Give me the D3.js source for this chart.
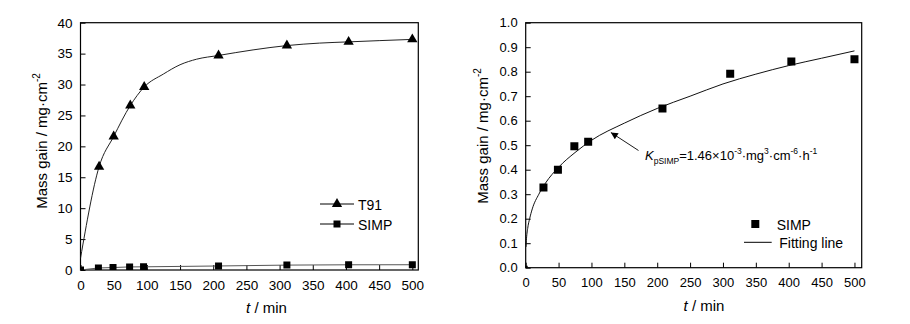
<!DOCTYPE html>
<html>
<head>
<meta charset="utf-8">
<script src="https://cdn.jsdelivr.net/npm/d3@7"></script>
<style>
  html, body { margin: 0; padding: 0; background: #fff; }
  svg { display: block; font-family: "Liberation Sans", Arial, sans-serif; }
</style>
</head>
<body>
<svg id="chart" width="910" height="324"></svg>
<script>
// Oxidation kinetics: mass gain versus exposure time

// Left panel — T91 measured points and its guide curve
const t91Time = [28, 50, 75, 96, 208, 311, 404, 500];
const t91Gain = [16.7, 21.6, 26.6, 29.6, 34.7, 36.3, 36.9, 37.3];
const t91CurveTime = [0, 28, 50, 75, 96, 125, 150, 175, 208, 260, 311, 360, 404, 450, 500];
const t91CurveGain = [1.9, 16.7, 21.6, 26.6, 29.6, 31.7, 33.2, 34.1, 34.7, 35.6, 36.3, 36.7, 36.9, 37.1, 37.3];

// SIMP measured points (shared by both panels)
const simpTime = [0, 27, 49, 74, 95, 208, 311, 404, 500];
const simpGain = [0, 0.327, 0.40, 0.496, 0.514, 0.65, 0.792, 0.842, 0.851];

// Right panel — parabolic-law fitting line
const fitTime = [0.5, 1, 3, 6, 10, 20, 30, 50, 75, 100, 150, 200, 250, 300, 350, 400, 450, 500];
const fitGain = [0.085, 0.11, 0.16, 0.20, 0.24, 0.30, 0.345, 0.41, 0.47, 0.52, 0.59, 0.65, 0.70, 0.75, 0.79, 0.825, 0.855, 0.885];

// Axis ticks
const xTicks = [0, 50, 100, 150, 200, 250, 300, 350, 400, 450, 500];
const leftYTicks = [0, 5, 10, 15, 20, 25, 30, 35, 40];
const rightYTicks = [0, 0.1, 0.2, 0.3, 0.4, 0.5, 0.6, 0.7, 0.8, 0.9, 1.0];

const svg = d3.select("#chart");
const TICK = 5;

function frame(g, x, y, yTicks, yFmt, fontSize, titleX, titleY, xTitleX, xTitleY) {
  const [x0, x1] = x.range();
  const [y0, y1] = y.range(); // y0 bottom, y1 top
  // box
  g.append("rect")
    .attr("x", x0).attr("y", y1)
    .attr("width", x1 - x0).attr("height", y0 - y1)
    .attr("fill", "none").attr("stroke", "#000").attr("stroke-width", 1.2);

  // x ticks (inward) and labels
  const xa = g.append("g").attr("transform", `translate(0,${y0})`)
    .call(d3.axisBottom(x).tickValues(xTicks).tickSizeInner(-TICK).tickSizeOuter(0).tickPadding(TICK + 5));
  xa.select(".domain").remove();
  xa.selectAll("text").attr("font-size", fontSize).attr("fill", "#000")
    .attr("font-family", "Liberation Sans, Arial, sans-serif");

  // y ticks (inward) and labels
  const ya = g.append("g").attr("transform", `translate(${x0},0)`)
    .call(d3.axisLeft(y).tickValues(yTicks).tickFormat(yFmt).tickSizeInner(-TICK).tickSizeOuter(0).tickPadding(TICK + 3));
  ya.select(".domain").remove();
  ya.selectAll("text").attr("font-size", fontSize).attr("fill", "#000")
    .attr("font-family", "Liberation Sans, Arial, sans-serif");
  g.selectAll(".tick line").attr("stroke", "#000").attr("stroke-width", 1);

  // y title
  const yt = g.append("text")
    .attr("transform", `translate(${titleX},${titleY}) rotate(-90)`)
    .attr("text-anchor", "middle").attr("font-size", 15).attr("fill", "#000");
  yt.append("tspan").text("Mass gain / mg·cm");
  yt.append("tspan").attr("dy", -7).attr("font-size", 10).text("-2");

  // x title
  const xt = g.append("text")
    .attr("x", xTitleX).attr("y", xTitleY)
    .attr("text-anchor", "middle").attr("font-size", 15).attr("fill", "#000");
  xt.append("tspan").attr("font-style", "italic").text("t");
  xt.append("tspan").text(" / min");
}

// ---------- Left panel ----------
const xL = d3.scaleLinear().domain([0, 509]).range([80.5, 418.3]);
const yL = d3.scaleLinear().domain([0, 40]).range([270, 22.7]);
const gL = svg.append("g");

svg.append("clipPath").attr("id", "clipL").append("rect")
  .attr("x", 80.5).attr("y", 22.7).attr("width", 418.3 - 80.5).attr("height", 270 - 22.7);

frame(gL, xL, yL, leftYTicks, d3.format("d"), 13.5, 46.5, 141, 266.5, 313);

const plotL = gL.append("g").attr("clip-path", "url(#clipL)");

plotL.append("path")
  .datum(t91CurveTime.map((t, i) => [t, t91CurveGain[i]]))
  .attr("fill", "none").attr("stroke", "#222").attr("stroke-width", 1)
  .attr("d", d3.line().x(d => xL(d[0])).y(d => yL(d[1])).curve(d3.curveMonotoneX));

plotL.append("path")
  .datum(simpTime.map((t, i) => [t, simpGain[i]]))
  .attr("fill", "none").attr("stroke", "#555").attr("stroke-width", 1)
  .attr("d", d3.line().x(d => xL(d[0])).y(d => yL(d[1])));

const tri = d3.symbol().type(d3.symbolTriangle).size(46);
const sqL = d3.symbol().type(d3.symbolSquare).size(49);

plotL.selectAll(".t91").data(t91Time).join("path")
  .attr("transform", (t, i) => `translate(${xL(t)},${yL(t91Gain[i])})`)
  .attr("d", tri).attr("fill", "#000");

plotL.selectAll(".simpL").data(simpTime).join("path")
  .attr("transform", (t, i) => `translate(${xL(t)},${yL(simpGain[i])})`)
  .attr("d", sqL).attr("fill", "#000");

// legend (left)
const legL = gL.append("g");
[["T91", tri, 204], ["SIMP", sqL, 224]].forEach(([name, sym, ly]) => {
  legL.append("line").attr("x1", 320).attr("x2", 354).attr("y1", ly).attr("y2", ly)
    .attr("stroke", "#000").attr("stroke-width", 1);
  legL.append("path").attr("transform", `translate(337,${ly})`).attr("d", sym).attr("fill", "#000");
  legL.append("text").attr("x", 358).attr("y", ly + 5.5).attr("font-size", 14).attr("fill", "#000").text(name);
});

// ---------- Right panel ----------
const xR = d3.scaleLinear().domain([0, 511]).range([525.7, 861.7]);
const yR = d3.scaleLinear().domain([0, 1]).range([267.7, 22.7]);
const gR = svg.append("g");

svg.append("clipPath").attr("id", "clipR").append("rect")
  .attr("x", 525.7).attr("y", 22.7).attr("width", 861.7 - 525.7).attr("height", 267.7 - 22.7);

frame(gR, xR, yR, rightYTicks, d3.format(".1f"), 13, 487.5, 136, 704, 311);

const plotR = gR.append("g").attr("clip-path", "url(#clipR)");

plotR.append("path")
  .datum(fitTime.map((t, i) => [t, fitGain[i]]))
  .attr("fill", "none").attr("stroke", "#111").attr("stroke-width", 1)
  .attr("d", d3.line().x(d => xR(d[0])).y(d => yR(d[1])).curve(d3.curveMonotoneX));

const sqR = d3.symbol().type(d3.symbolSquare).size(64);
plotR.selectAll(".simpR").data(simpTime).join("path")
  .attr("transform", (t, i) => `translate(${xR(t)},${yR(simpGain[i])})`)
  .attr("d", (t) => t === 0 ? d3.symbol().type(d3.symbolSquare).size(16)() : sqR())
  .attr("fill", "#000");

// annotation arrow pointing at the fitting line
const defs = svg.append("defs");
defs.append("marker").attr("id", "arrowHead")
  .attr("viewBox", "0 0 10 10").attr("refX", 10).attr("refY", 5)
  .attr("markerWidth", 9).attr("markerHeight", 7).attr("markerUnits", "userSpaceOnUse")
  .attr("orient", "auto")
  .append("path").attr("d", "M0,0 L10,5 L0,10 Z").attr("fill", "#000");

const arrowT = 128;
gR.append("line")
  .attr("x1", 638.5).attr("y1", 150.5)
  .attr("x2", xR(arrowT) + 1).attr("y2", yR(0.556) + 1)
  .attr("stroke", "#000").attr("stroke-width", 0.9)
  .attr("marker-end", "url(#arrowHead)");

const kt = gR.append("text").attr("x", 645).attr("y", 160).attr("font-size", 13).attr("fill", "#000");
kt.append("tspan").attr("font-style", "italic").text("K");
kt.append("tspan").attr("dy", 4).attr("font-size", 8.5).text("pSIMP");
kt.append("tspan").attr("dy", -4).text("=1.46×10");
kt.append("tspan").attr("dy", -6).attr("font-size", 8.5).text("-3");
kt.append("tspan").attr("dy", 6).text("·mg");
kt.append("tspan").attr("dy", -6).attr("font-size", 8.5).text("3");
kt.append("tspan").attr("dy", 6).text("·cm");
kt.append("tspan").attr("dy", -6).attr("font-size", 8.5).text("-6");
kt.append("tspan").attr("dy", 6).text("·h");
kt.append("tspan").attr("dy", -6).attr("font-size", 8.5).text("-1");

// legend (right)
gR.append("path").attr("transform", "translate(755.3,224)").attr("d", sqR).attr("fill", "#000");
gR.append("text").attr("x", 776.7).attr("y", 229.5).attr("font-size", 14).attr("fill", "#000").text("SIMP");
gR.append("line").attr("x1", 744).attr("x2", 771.7).attr("y1", 242.3).attr("y2", 242.3)
  .attr("stroke", "#000").attr("stroke-width", 1);
gR.append("text").attr("x", 779.3).attr("y", 247.8).attr("font-size", 14).attr("fill", "#000").text("Fitting line");
</script>
</body>
</html>
